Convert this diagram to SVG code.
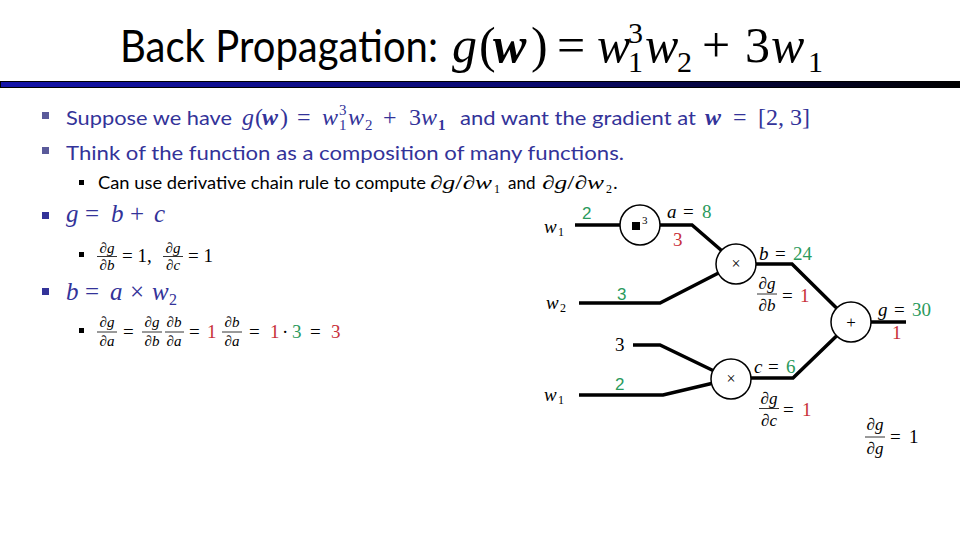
<svg xmlns="http://www.w3.org/2000/svg" width="960" height="540" viewBox="0 0 960 540">
<defs>
<linearGradient id="bar" x1="0" y1="0" x2="1" y2="0">
<stop offset="0" stop-color="#1414a8"/>
<stop offset="0.55" stop-color="#0a0a70"/>
<stop offset="1" stop-color="#000000"/>
</linearGradient>
<style>
.sans{font-family:Lato,"Open Sans","Liberation Sans",sans-serif}
.m{font-family:"Liberation Serif","DejaVu Serif",serif}
.i{font-style:italic}
.b{font-weight:bold}
.blue{fill:#333399}
.grn{fill:#2a9a5c}
.red{fill:#c8303a}
.edge{fill:none;stroke:#000;stroke-width:3.5;stroke-linejoin:miter}
.node{fill:#fff;stroke:#000;stroke-width:1.5}
.fbar{stroke:#000;stroke-width:0.8}
.nl{font-family:"Liberation Sans",Arial,sans-serif;font-size:17px}
</style>
</defs>
<rect width="960" height="540" fill="#fff"/>

<g id="title">
<text x="120" y="62" class="sans" font-size="44" fill="#000" textLength="318" lengthAdjust="spacingAndGlyphs">Back Propagation:</text>
<g class="m" font-size="50" fill="#000">
<text x="452" y="62" class="i">g</text>
<text x="479" y="62">(</text>
<text x="493" y="62" class="i b">w</text>
<text x="531" y="62">)</text>
<text x="557" y="62">=</text>
<text x="597" y="62" class="i">w</text>
<text x="628" y="72" font-size="30">1</text>
<text x="628" y="43" font-size="30">3</text>
<text x="645" y="62" class="i">w</text>
<text x="677" y="72" font-size="30">2</text>
<text x="702" y="62">+</text>
<text x="745" y="62">3</text>
<text x="771" y="62" class="i">w</text>
<text x="808" y="72" font-size="30">1</text>
</g>
</g>
<rect id="titlebar" x="0.5" y="81.5" width="959" height="6" fill="url(#bar)" stroke="#000" stroke-width="1"/>

<g id="bullets">
<rect x="42" y="112" width="7" height="7" fill="#5a5a9a"/>
<rect x="42" y="147" width="7" height="7" fill="#5a5a9a"/>
<rect x="79" y="180" width="5" height="5" fill="#000"/>
<rect x="42" y="212" width="7" height="7" fill="#333399"/>
<rect x="79" y="252" width="5" height="5" fill="#000"/>
<rect x="42" y="288" width="7" height="7" fill="#333399"/>
<rect x="79" y="328" width="5" height="5" fill="#000"/>
</g>

<g id="line1" class="blue">
<text x="66" y="125" class="sans" font-size="20" textLength="166" lengthAdjust="spacingAndGlyphs">Suppose we have</text>
<g class="m" font-size="24">
<text x="242" y="125" class="i">g</text>
<text x="255" y="125">(</text>
<text x="262" y="125" class="i b">w</text>
<text x="280" y="125">)</text>
<text x="297" y="125">=</text>
<text x="322" y="125" class="i">w</text>
<text x="339" y="130" font-size="15">1</text>
<text x="339" y="115" font-size="15">3</text>
<text x="348" y="125" class="i">w</text>
<text x="365" y="130" font-size="15">2</text>
<text x="383" y="125">+</text>
<text x="409" y="125">3</text>
<text x="421" y="125" class="i">w</text>
<text x="438" y="130" font-size="15" class="b">1</text>
</g>
<text x="460" y="125" class="sans" font-size="20" textLength="236" lengthAdjust="spacingAndGlyphs">and want the gradient at</text>
<g class="m" font-size="24">
<text x="705" y="125" class="i b">w</text>
<text x="733" y="125">=</text>
<text x="758" y="125">[2, 3]</text>
</g>
</g>

<text id="line2" x="66" y="160" class="sans blue" font-size="20" textLength="558" lengthAdjust="spacingAndGlyphs">Think of the function as a composition of many functions.</text>

<g id="line3" fill="#000">
<text x="98" y="189" class="sans" font-size="17" textLength="328" lengthAdjust="spacingAndGlyphs">Can use derivative chain rule to compute</text>
<g class="m" font-size="19">
<text x="430" y="189" textLength="62" lengthAdjust="spacingAndGlyphs">∂<tspan class="i">g</tspan>/∂<tspan class="i">w</tspan></text>
<text x="494" y="193" font-size="12">1</text>
<text x="542" y="189" textLength="62" lengthAdjust="spacingAndGlyphs">∂<tspan class="i">g</tspan>/∂<tspan class="i">w</tspan></text>
<text x="606" y="193" font-size="12">2</text>
<text x="613" y="189">.</text>
</g>
<text x="508" y="189" class="sans" font-size="17">and</text>
</g>

<g id="line4" class="m i blue" font-size="25">
<text x="66" y="222">g</text>
<text x="85" y="222" font-style="normal">=</text>
<text x="111" y="222">b</text>
<text x="130" y="222" font-style="normal">+</text>
<text x="154" y="222">c</text>
</g>

<g id="line5" class="m" fill="#000" font-size="15">
<text x="107" y="253" text-anchor="middle">∂<tspan class="i">g</tspan></text>
<line x1="97" y1="256.5" x2="117" y2="256.5" class="fbar"/>
<text x="107" y="270" text-anchor="middle">∂<tspan class="i">b</tspan></text>
<text x="122" y="262" font-size="19">= 1,</text>
<text x="173" y="253" text-anchor="middle">∂<tspan class="i">g</tspan></text>
<line x1="163" y1="256.5" x2="183" y2="256.5" class="fbar"/>
<text x="173" y="270" text-anchor="middle">∂<tspan class="i">c</tspan></text>
<text x="188" y="262" font-size="19">= 1</text>
</g>

<g id="line6" class="m i blue" font-size="25">
<text x="66" y="300">b</text>
<text x="85" y="300" font-style="normal">=</text>
<text x="110" y="300">a</text>
<text x="130" y="300" font-style="normal">×</text>
<text x="152" y="300">w</text>
<text x="169" y="305" font-size="16" font-style="normal">2</text>
</g>

<g id="line7" class="m" fill="#000" font-size="15">
<text x="107" y="327" text-anchor="middle">∂<tspan class="i">g</tspan></text>
<line x1="97" y1="332" x2="117" y2="332" class="fbar"/>
<text x="107" y="346" text-anchor="middle">∂<tspan class="i">a</tspan></text>
<text x="123" y="338" font-size="19">=</text>
<text x="152" y="327" text-anchor="middle">∂<tspan class="i">g</tspan></text>
<line x1="142" y1="332" x2="162" y2="332" class="fbar"/>
<text x="152" y="346" text-anchor="middle">∂<tspan class="i">b</tspan></text>
<text x="174" y="327" text-anchor="middle">∂<tspan class="i">b</tspan></text>
<line x1="165" y1="332" x2="184" y2="332" class="fbar"/>
<text x="174" y="346" text-anchor="middle">∂<tspan class="i">a</tspan></text>
<text x="189" y="338" font-size="19">=</text>
<text x="207" y="338" font-size="19" class="red">1</text>
<text x="232" y="327" text-anchor="middle">∂<tspan class="i">b</tspan></text>
<line x1="222" y1="332" x2="242" y2="332" class="fbar"/>
<text x="232" y="346" text-anchor="middle">∂<tspan class="i">a</tspan></text>
<text x="249" y="338" font-size="19">=</text>
<text x="270" y="338" font-size="19" class="red">1</text>
<text x="282" y="338" font-size="19">·</text>
<text x="292" y="338" font-size="19" class="grn">3</text>
<text x="310" y="338" font-size="19">=</text>
<text x="331" y="338" font-size="19" class="red">3</text>
</g>

<g id="connectors">
<polyline class="edge" points="575,225 620,225"/>
<polyline class="edge" points="660,225 692,225 721.5,250.5"/>
<polyline class="edge" points="579,303 660,303 718.5,273"/>
<polyline class="edge" points="756,264 792,264 836.5,308"/>
<polyline class="edge" points="871,322 906,322"/>
<polyline class="edge" points="633,345 660,345 713,370.5"/>
<polyline class="edge" points="579,395 663,395 711.5,383.5"/>
<polyline class="edge" points="751,378 793,378 836.5,336"/>
</g>

<g id="node-pow">
<circle cx="640" cy="225" r="20" class="node"/>
<rect x="632" y="222" width="8" height="8" fill="#000"/>
<text x="642" y="224" class="m" font-size="11" fill="#000">3</text>
</g>
<g id="node-mul1">
<circle cx="736" cy="264" r="20" class="node"/>
<text x="736" y="269" class="m" font-size="16" text-anchor="middle" fill="#000">×</text>
</g>
<g id="node-add">
<circle cx="851" cy="322" r="20" class="node"/>
<text x="851" y="328" class="m" font-size="17" text-anchor="middle" fill="#000">+</text>
</g>
<g id="node-mul2">
<circle cx="731" cy="379" r="20" class="node"/>
<text x="731" y="384" class="m" font-size="16" text-anchor="middle" fill="#000">×</text>
</g>

<g id="labels" class="m" fill="#000" font-size="19">
<text x="544" y="233" class="i">w</text><text x="558" y="236" font-size="12">1</text>
<text x="582" y="219" class="nl grn">2</text>
<text x="667" y="218" class="i">a</text><text x="683" y="218">=</text><text x="702" y="218" class="grn">8</text>
<text x="673" y="246" class="red">3</text>

<text x="546" y="309" class="i">w</text><text x="560" y="312" font-size="12">2</text>
<text x="617" y="300" class="nl grn">3</text>

<text x="759" y="260" class="i">b</text><text x="775" y="260">=</text><text x="793" y="260" class="grn">24</text>
<text x="767" y="289" text-anchor="middle" font-size="17">∂<tspan class="i">g</tspan></text>
<line x1="757" y1="294" x2="777" y2="294" class="fbar"/>
<text x="767" y="311" text-anchor="middle" font-size="17">∂<tspan class="i">b</tspan></text>
<text x="782" y="302">=</text><text x="800" y="302" class="red">1</text>

<text x="878" y="316" class="i">g</text><text x="894" y="316">=</text><text x="912" y="316" class="grn">30</text>
<text x="892" y="339" class="red">1</text>

<text x="615" y="351">3</text>
<text x="544" y="401" class="i">w</text><text x="558" y="404" font-size="12">1</text>
<text x="615" y="390" class="nl grn">2</text>

<text x="754" y="373" class="i">c</text><text x="768" y="373">=</text><text x="786" y="373" class="grn">6</text>
<text x="769" y="404" text-anchor="middle" font-size="17">∂<tspan class="i">g</tspan></text>
<line x1="759" y1="408.5" x2="779" y2="408.5" class="fbar"/>
<text x="769" y="426" text-anchor="middle" font-size="17">∂<tspan class="i">c</tspan></text>
<text x="783" y="416">=</text><text x="802" y="416" class="red">1</text>

<text x="875" y="430" text-anchor="middle" font-size="17">∂<tspan class="i">g</tspan></text>
<line x1="865" y1="437" x2="885" y2="437" class="fbar"/>
<text x="875" y="454" text-anchor="middle" font-size="17">∂<tspan class="i">g</tspan></text>
<text x="890" y="443">=</text><text x="909" y="443">1</text>
</g>
</svg>
